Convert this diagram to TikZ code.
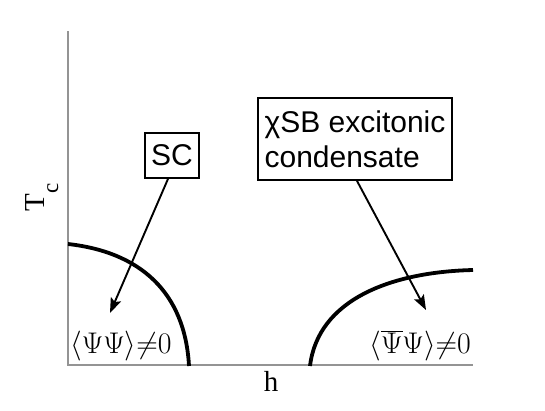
\documentclass[tikz,border=0pt]{standalone}
\usepackage{graphicx}
\usepackage{fontspec}
\newfontfamily\arialish{Liberation Sans}
\newfontfamily\timesish{Liberation Serif}
\usetikzlibrary{arrows.meta}
\newcommand{\bigmath}[1]{\scalebox{1.2}{\fontsize{24.88}{25}\selectfont$#1$}}
\begin{document}
\begin{tikzpicture}[x=1pt,y=-1pt,
  axis/.style={draw=black!42,line width=1.5pt},
  phase/.style={draw=black,line width=3.8pt},
  arr/.style={draw=black,line width=1.9pt,-{Stealth[length=15pt,width=11pt,inset=3pt]}},
  labelbox/.style={draw=black,line width=1.8pt,font=\arialish\fontsize{30}{35}\selectfont,inner sep=0pt},
  mathlab/.style={inner sep=0pt}]
\useasboundingbox (0,0) rectangle (545,410);
\fill[white] (0,0) rectangle (545,410);
% axes
\coordinate (origin) at (68,365);
\coordinate (ytop) at (68,31);
\coordinate (xend) at (473,365);
\draw[axis] (ytop) -- (origin) -- (xend);
% phase boundaries
\coordinate (la) at (68,244);
\coordinate (lb) at (189,366);
\draw[phase] (la) .. controls (140,252) and (185,292) .. (lb);
\coordinate (ra) at (310,366);
\coordinate (rb) at (473,270);
\draw[phase] (ra) .. controls (318,300) and (390,272) .. (rb);
% boxes
\node[labelbox,minimum width=54pt,minimum height=45pt] (sc) at (172,155.5) {SC};
\node[labelbox,minimum width=194pt,minimum height=82pt,align=left] (cx) at (355,139) {χSB excitonic\\condensate};
% arrows
\coordinate (sctip) at (110,313);
\coordinate (cxtip) at (426,310);
\draw[arr] ([xshift=-4pt]sc.south) -- (sctip);
\draw[arr] ([xshift=2pt]cx.south) -- (cxtip);
% labels
\node[mathlab,anchor=base west] (psipsi) at (70,353) {\bigmath{\langle\Psi\Psi\rangle{\neq}0}};
\node[mathlab,anchor=base east] (psibarpsi) at (471,353) {\bigmath{\langle\overline{\Psi}\Psi\rangle{\neq}0}};
\node[inner sep=0pt,anchor=base,font=\timesish\fontsize{29}{29}\selectfont] (hlab) at (271,391) {h};
\node[inner sep=0pt,rotate=90,anchor=base,font=\timesish\fontsize{29}{29}\selectfont] (tlab) at (44,203) {T};
\node[inner sep=0pt,rotate=90,anchor=base,font=\timesish\fontsize{23}{23}\selectfont] (clab) at (58,188) {c};
\end{tikzpicture}
\end{document}
